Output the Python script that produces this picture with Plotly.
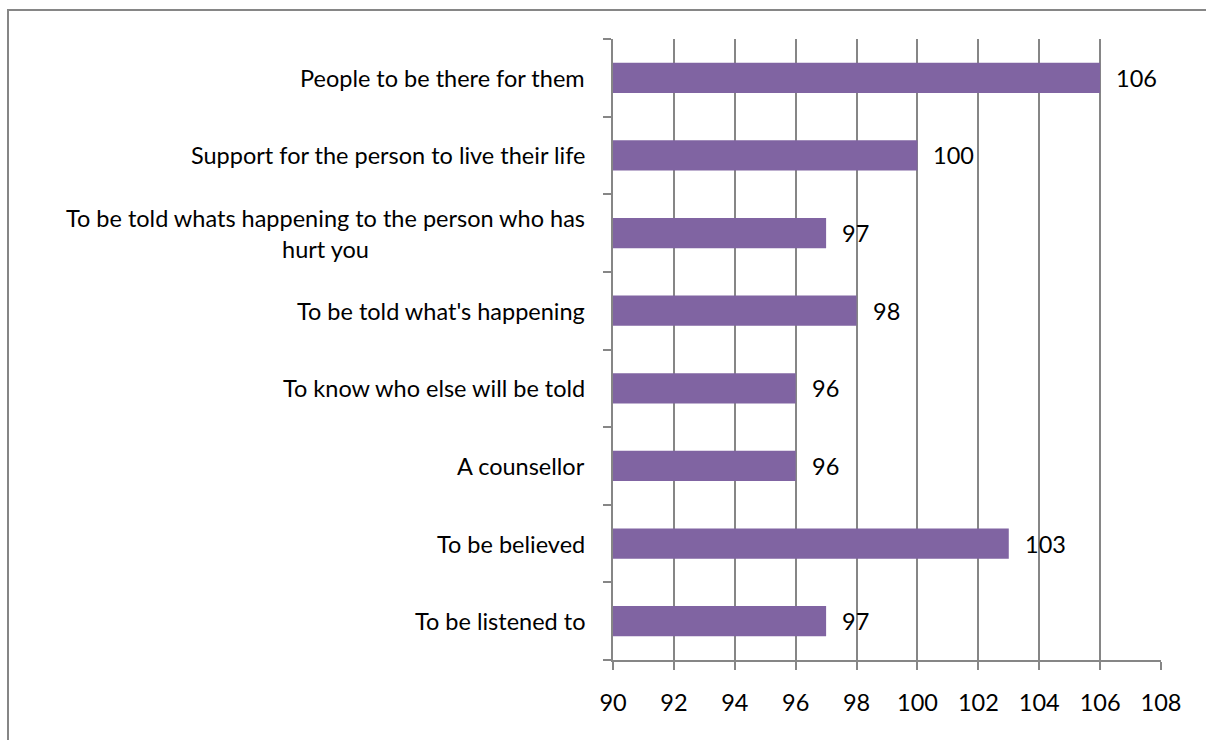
import plotly.graph_objects as go

# Survey responses: what people said they need (bottom to top as plotted)
categories = [
    "To be listened to",
    "To be believed",
    "A counsellor",
    "To know who else will be told",
    "To be told what's happening",
    "To be told whats happening to the person who has<br>hurt you",
    "Support for the person to live their life",
    "People to be there for them",
]
values = [97, 103, 96, 96, 98, 97, 100, 106]
x_ticks = [90, 92, 94, 96, 98, 100, 102, 104, 106, 108]
BASE = 90

BAR = "#8064A2"
GRID = "#868686"
FONT = "Lato, 'Noto Sans', sans-serif"

W, H = 1206, 740
L, R, T, B = 613, 45, 39, 80
pw, ph = W - L - R, H - T - B

fig = go.Figure(
    go.Bar(
        x=[v - BASE for v in values],
        y=categories,
        base=BASE,
        orientation="h",
        marker=dict(color=BAR, line=dict(width=0)),
        width=0.39,
        hoverinfo="skip",
    )
)

annotations = []
# category labels, centred line-by-line and right-aligned to the axis
for c in categories:
    annotations.append(dict(
        x=0, xref="paper", y=c, yref="y", text=c, showarrow=False,
        xanchor="right", yanchor="middle", align="center", xshift=-26,
        font=dict(family=FONT, size=23.5, color="#000000"),
    ))
# value labels beside each bar
for c, v in zip(categories, values):
    annotations.append(dict(
        x=v, xref="x", y=c, yref="y", text=str(v), showarrow=False,
        xanchor="left", yanchor="middle", xshift=14,
        font=dict(family=FONT, size=23.5, color="#000000"),
    ))

fig.update_layout(
    width=W, height=H,
    margin=dict(l=L, r=R, t=T, b=B, pad=0),
    paper_bgcolor="white", plot_bgcolor="white",
    showlegend=False,
    bargap=0.61,
    annotations=annotations,
    xaxis=dict(
        range=[90, 108], tickvals=x_ticks, ticktext=[str(t) for t in x_ticks],
        showgrid=True, gridcolor=GRID, gridwidth=1.5,
        showline=True, linecolor=GRID, linewidth=1.5,
        ticks="outside", ticklen=8, tickcolor=GRID, tickwidth=1.5,
        ticklabelstandoff=13,
        tickfont=dict(family=FONT, size=23.5, color="#000000"),
        zeroline=False, fixedrange=True,
    ),
    yaxis=dict(
        type="category", categoryorder="array", categoryarray=categories,
        tickson="boundaries", showticklabels=False,
        showgrid=False, showline=True, linecolor=GRID, linewidth=1.5,
        ticks="outside", ticklen=8, tickcolor=GRID, tickwidth=1.5,
        fixedrange=True,
    ),
    shapes=[dict(
        type="rect", xref="paper", yref="paper",
        x0=(8 - L) / pw, x1=(W + 10 - L) / pw,
        y0=(H - B - (H + 10)) / ph, y1=(H - B - 10) / ph,
        line=dict(color=GRID, width=2), layer="below",
    )],
)

fig.write_html("out.html")
